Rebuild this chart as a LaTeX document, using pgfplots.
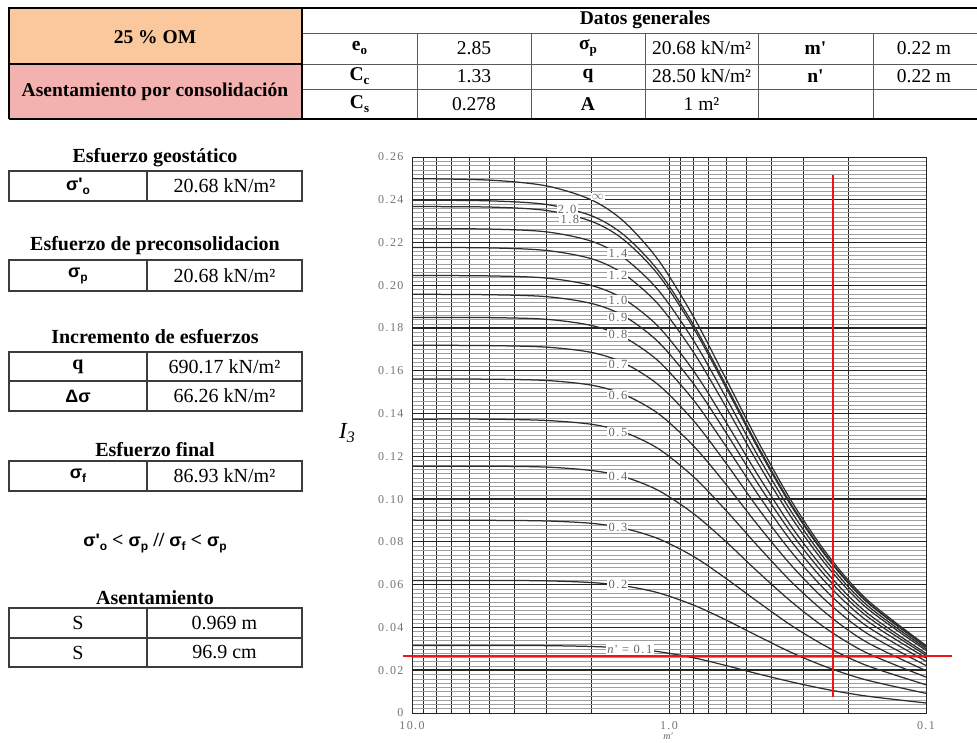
\documentclass[border=0pt]{standalone}
\usepackage{fontspec}
\setmainfont{Liberation Serif}
\newfontfamily\sansf{Liberation Sans}
\usepackage{pgfplots}
\usepackage{pgfplotstable}
\pgfplotsset{compat=1.18}
\definecolor{omorange}{HTML}{FBC89D}
\definecolor{ompink}{HTML}{F3B1AF}
\definecolor{tline}{HTML}{3C3C3C}
\definecolor{redline}{RGB}{240,20,20}
\newcommand\sub[2][12]{\raisebox{-4pt}{\fontsize{#1}{#1}\selectfont #2}}
\newcommand\fT{\fontsize{19.5}{22}\selectfont}
\newcommand\fL{\fontsize{20}{23}\selectfont}
\newcommand\sg[1]{{\sansf\bfseries\fontsize{18}{20}\selectfont #1}}
\newcommand\q{\textquotesingle}
\tikzset{lab/.style={fill=white, inner sep=1.2pt, font=\fontsize{12.5}{13}\selectfont\addfontfeature{LetterSpace=12}, text=black!60}}
\pgfplotsset{fcurve/.style={black!82, line width=1.25pt, smooth, tension=0.5, no markers}}

\pgfplotstableread{
m    n01    n02    n03    n04    n05    n06    n07    n08    n09    n10    n12    n14    n18    n20    ninf
10   0.0316 0.0620 0.0902 0.1154 0.1374 0.1562 0.1720 0.1850 0.1958 0.2046 0.2177 0.2265 0.2368 0.2398 0.2499
5    0.0316 0.0620 0.0901 0.1154 0.1374 0.1561 0.1718 0.1849 0.1956 0.2044 0.2175 0.2263 0.2366 0.2395 0.2492
3    0.0315 0.0618 0.0898 0.1150 0.1368 0.1555 0.1711 0.1841 0.1947 0.2034 0.2163 0.2250 0.2350 0.2378 0.2465
2    0.0311 0.0610 0.0887 0.1134 0.1350 0.1533 0.1686 0.1812 0.1915 0.1999 0.2124 0.2206 0.2299 0.2325 0.2399
1.5  0.0304 0.0595 0.0864 0.1105 0.1314 0.1490 0.1637 0.1758 0.1857 0.1936 0.2053 0.2129 0.2213 0.2236 0.2299
1.1  0.0287 0.0562 0.0815 0.1041 0.1236 0.1400 0.1535 0.1646 0.1735 0.1807 0.1911 0.1977 0.2049 0.2068 0.2118
0.8  0.0258 0.0504 0.0731 0.0931 0.1103 0.1247 0.1365 0.1461 0.1537 0.1598 0.1684 0.1739 0.1797 0.1812 0.1850
0.6  0.0222 0.0435 0.0629 0.0801 0.0947 0.1069 0.1168 0.1247 0.1311 0.1360 0.1431 0.1475 0.1521 0.1533 0.1562
0.45 0.0183 0.0359 0.0519 0.0659 0.0779 0.0877 0.0957 0.1021 0.1071 0.1111 0.1167 0.1201 0.1237 0.1246 0.1269
0.33 0.0144 0.0280 0.0405 0.0515 0.0607 0.0683 0.0745 0.0794 0.0832 0.0863 0.0905 0.0931 0.0957 0.0964 0.0981
0.24 0.0109 0.0212 0.0306 0.0388 0.0458 0.0515 0.0561 0.0598 0.0626 0.0649 0.0680 0.0699 0.0719 0.0724 0.0736
0.17 0.0079 0.0154 0.0222 0.0281 0.0331 0.0373 0.0406 0.0432 0.0453 0.0469 0.0491 0.0505 0.0519 0.0522 0.0531
0.1  0.0047 0.0092 0.0132 0.0168 0.0198 0.0222 0.0242 0.0258 0.0270 0.0279 0.0293 0.0301 0.0309 0.0311 0.0316
}\curves

\begin{document}
\begin{tikzpicture}
\useasboundingbox (0pt,0pt) rectangle (977pt,-742pt);
\begin{scope}[x=1pt,y=-1pt]
% ---------- top table ----------
\fill[omorange] (9,8) rectangle (302,64);
\fill[ompink] (9,64) rectangle (302,119);
\draw[black!65, line width=1pt] (302,33) -- (977,33);
\draw[black!65, line width=1pt] (302,64) -- (977,64);
\draw[black!65, line width=1pt] (302,89) -- (977,89);
\foreach \x in {417,531,645,758,873} \draw[black!65, line width=1pt] (\x,33) -- (\x,119);
\draw[black, line width=1.5pt] (9,64) -- (302,64);
\draw[black, line width=2pt] (302,8) -- (302,119);
\draw[black, line width=2.2pt] (9,119) -- (9,8) -- (977,8);
\draw[black, line width=2.2pt] (9,119) -- (977,119);
\node[font=\fT\bfseries] at (155,37) {25 \% OM};
\node[font=\fT\bfseries] at (155,92) {Asentamiento por consolidación};
\node[font=\fT\bfseries] at (645,20) {Datos generales};
% row 1
\node[font=\fT\bfseries] at (359.5,48) {e\sub[13]{o}};
\node[font=\fT] at (474,48) {2.85};
\node[font=\fT\bfseries] at (588,48) {σ\sub[13]{p}};
\node[font=\fT] at (701.5,48) {20.68 kN/m²};
\node[font=\fT\bfseries] at (815.5,48) {m\q};
\node[font=\fT] at (924,48) {0.22 m};
% row 2
\node[font=\fT\bfseries] at (359.5,76) {C\sub[13]{c}};
\node[font=\fT] at (474,76) {1.33};
\node[font=\fT\bfseries] at (588,76) {q};
\node[font=\fT] at (701.5,76) {28.50 kN/m²};
\node[font=\fT\bfseries] at (815.5,76) {n\q};
\node[font=\fT] at (924,76) {0.22 m};
% row 3
\node[font=\fT\bfseries] at (359.5,104) {C\sub[13]{s}};
\node[font=\fT] at (474,104) {0.278};
\node[font=\fT\bfseries] at (588,104) {A};
\node[font=\fT] at (701.5,104) {1 m²};
% ---------- left panel ----------
\tikzset{lt/.style={tline, line width=1.4pt}}
\node[font=\fL\bfseries] at (155,158) {Esfuerzo geostático};
\draw[lt] (9,171) rectangle (302,201); \draw[lt] (147,171) -- (147,201);
\node at (78,186) {\sg{σ\q\sub{o}}};
\node[font=\fL] at (224.5,186) {20.68 kN/m²};

\node[font=\fL\bfseries] at (155,246) {Esfuerzo de preconsolidacion};
\draw[lt] (9,260) rectangle (302,291); \draw[lt] (147,260) -- (147,291);
\node at (78,275.5) {\sg{σ\sub{p}}};
\node[font=\fL] at (224.5,275.5) {20.68 kN/m²};

\node[font=\fL\bfseries] at (155,337) {Incremento de esfuerzos};
\draw[lt] (9,352) rectangle (302,411); \draw[lt] (9,381) -- (302,381); \draw[lt] (147,352) -- (147,411);
\node[font=\fL\bfseries] at (78,366.5) {q};
\node[font=\fL] at (224.5,366.5) {690.17 kN/m²};
\node at (78,396) {\sg{Δσ}};
\node[font=\fL] at (224.5,396) {66.26 kN/m²};

\node[font=\fL\bfseries] at (155,450) {Esfuerzo final};
\draw[lt] (9,461) rectangle (302,491); \draw[lt] (147,461) -- (147,491);
\node at (78,476) {\sg{σ\sub{f}}};
\node[font=\fL] at (224.5,476) {86.93 kN/m²};

\node[font=\fL\bfseries] at (155,543) {\sg{σ\q\sub{o}} < \sg{σ\sub{p}} // \sg{σ\sub{f}} < \sg{σ\sub{p}}};

\node[font=\fL\bfseries] at (155,598) {Asentamiento};
\draw[lt] (9,608) rectangle (302,667); \draw[lt] (9,638) -- (302,638); \draw[lt] (147,608) -- (147,667);
\node[font=\fL] at (78,623) {S};
\node[font=\fL] at (224.5,623) {0.969 m};
\node[font=\fL] at (78,652.5) {S};
\node[font=\fL] at (224.5,652.5) {96.9 cm};
% ---------- chart extra labels ----------
\node[font=\fontsize{23}{24}\selectfont] at (347,433) {\itshape I\sub[16]{3}};
\node[font=\fontsize{10}{10}\selectfont\itshape, text=black!60, inner sep=0pt] at (668,736.5) {m\q};
\end{scope}

\begin{axis}[
  at={(412pt,-713pt)}, anchor=south west,
  scale only axis, width=514pt, height=556pt,
  xmode=log, x dir=reverse, xmin=0.1, xmax=10,
  ymin=0, ymax=0.26,
  xtick={0.1,0.2,0.3,0.4,0.5,0.6,0.7,0.8,0.9,1,2,3,4,5,6,7,8,9,10},
  xticklabels={0.1,,,,,,,,,1.0,,,,,,,,,10.0},
  minor xtick={},
  ytick={0,0.02,0.04,0.06,0.08,0.10,0.12,0.14,0.16,0.18,0.20,0.22,0.24,0.26},
  yticklabels={0,0.02,0.04,0.06,0.08,0.10,0.12,0.14,0.16,0.18,0.20,0.22,0.24,0.26},
  minor y tick num=9,
  grid=both,
  major grid style={black!85, line width=0.9pt},
  minor grid style={black!38, line width=0.5pt},
  extra y ticks={0.02,0.10,0.18},
  extra y tick labels={},
  extra y tick style={grid=major, major grid style={black!85, line width=1.8pt}},
  tick style={draw=none},
  axis line style={black!85, line width=0.9pt},
  ticklabel style={font=\fontsize{12}{12}\selectfont\addfontfeature{LetterSpace=12}, text=black!55},
  y tick label style={xshift=-5pt},
  x tick label style={yshift=-7pt, inner sep=1pt},
  clip=false,
]
\addplot[fcurve] table[x=m,y=n01]{\curves};
\addplot[fcurve] table[x=m,y=n02]{\curves};
\addplot[fcurve] table[x=m,y=n03]{\curves};
\addplot[fcurve] table[x=m,y=n04]{\curves};
\addplot[fcurve] table[x=m,y=n05]{\curves};
\addplot[fcurve] table[x=m,y=n06]{\curves};
\addplot[fcurve] table[x=m,y=n07]{\curves};
\addplot[fcurve] table[x=m,y=n08]{\curves};
\addplot[fcurve] table[x=m,y=n09]{\curves};
\addplot[fcurve] table[x=m,y=n10]{\curves};
\addplot[fcurve] table[x=m,y=n12]{\curves};
\addplot[fcurve] table[x=m,y=n14]{\curves};
\addplot[fcurve] table[x=m,y=n18]{\curves};
\addplot[fcurve] table[x=m,y=n20]{\curves};
\addplot[fcurve] table[x=m,y=ninf]{\curves};
\node[lab] at (axis cs:1.89,0.2415) {$\infty$};
\node[lab] at (axis cs:2.49,0.2357) {2.0};
\node[lab] at (axis cs:2.43,0.2306) {1.8};
\node[lab] at (axis cs:1.58,0.2147) {1.4};
\node[lab] at (axis cs:1.58,0.2044) {1.2};
\node[lab] at (axis cs:1.58,0.1927) {1.0};
\node[lab] at (axis cs:1.58,0.1848) {0.9};
\node[lab] at (axis cs:1.58,0.1768) {0.8};
\node[lab] at (axis cs:1.58,0.1632) {0.7};
\node[lab] at (axis cs:1.58,0.1487) {0.6};
\node[lab] at (axis cs:1.58,0.1310) {0.5};
\node[lab] at (axis cs:1.58,0.1104) {0.4};
\node[lab] at (axis cs:1.58,0.0870) {0.3};
\node[lab] at (axis cs:1.58,0.0599) {0.2};
\node[lab] at (axis cs:1.42,0.0299) {\textit{n}\q{} = 0.1};
\addplot[color=redline, line width=1.3pt, no markers] coordinates {(0.23,0.2516) (0.23,0.0075)};
\addplot[color=redline, line width=1.7pt, no markers] coordinates {(10.84,0.0268) (0.0793,0.0268)};
\end{axis}
\end{tikzpicture}
\end{document}
